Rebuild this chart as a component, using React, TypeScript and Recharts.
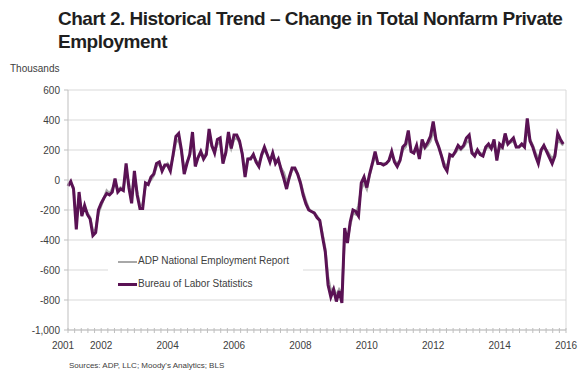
import React from "react";
import { LineChart, Line, XAxis, YAxis, CartesianGrid, ReferenceLine } from "recharts";

// monthly change, thousands, Jan 2001 .. Dec 2015
const START_YEAR = 2001;

const blsChange = [
  -40, -10, -60, -330, -80, -240, -170, -230, -260, -370, -350, -200, // 2001
  -155, -120, -90, -100, -80, 10, -80, -60, -70, 110, -50, -155, // 2002
  60, -100, -190, -190, -20, -30, 20, 40, 110, 120, 60, 100, // 2003
  100, 60, 170, 290, 310, 200, 40, 110, 170, 320, 90, 150, // 2004
  190, 140, 170, 340, 230, 180, 270, 280, 110, 180, 320, 210, // 2005
  300, 300, 260, 170, 20, 140, 140, 170, 120, 90, 170, 220, // 2006
  170, 120, 180, 110, 140, 70, 10, -60, 20, 80, 80, 40, // 2007
  -20, -100, -160, -200, -210, -220, -250, -270, -380, -480, -700, -780, // 2008
  -730, -810, -740, -820, -320, -420, -280, -200, -210, -240, -20, 20, // 2009
  -50, 40, 110, 190, 110, 110, 100, 110, 130, 190, 120, 90, // 2010
  130, 220, 240, 330, 190, 180, 230, 140, 270, 220, 250, 290, // 2011
  390, 270, 220, 160, 90, 60, 170, 160, 190, 230, 210, 230, // 2012
  280, 300, 180, 160, 200, 170, 160, 220, 240, 210, 270, 130, // 2013
  240, 220, 310, 240, 260, 280, 220, 220, 240, 220, 410, 260, // 2014
  220, 160, 110, 200, 230, 190, 150, 110, 160, 310, 270, 240, // 2015
];

const adpChange = [
  -30, -20, -50, -280, -120, -220, -180, -220, -250, -340, -330, -220, // 2001
  -170, -120, -70, -90, -60, -20, -70, -50, -60, 60, -20, -110, // 2002
  20, -80, -170, -160, -40, -20, 0, 30, 90, 110, 70, 90, // 2003
  110, 80, 160, 250, 270, 190, 70, 120, 160, 270, 130, 150, // 2004
  180, 160, 180, 290, 220, 190, 240, 250, 140, 170, 280, 210, // 2005
  270, 280, 250, 180, 60, 140, 150, 160, 130, 110, 160, 200, // 2006
  170, 130, 160, 120, 130, 80, 50, -10, 10, 70, 70, 40, // 2007
  -10, -80, -140, -190, -210, -220, -240, -270, -360, -460, -650, -740, // 2008
  -720, -770, -730, -760, -380, -400, -300, -220, -230, -170, -60, -20, // 2009
  -60, 30, 100, 160, 110, 110, 110, 110, 130, 170, 130, 110, // 2010
  130, 200, 220, 280, 190, 180, 210, 150, 240, 210, 230, 260, // 2011
  330, 260, 220, 160, 110, 90, 150, 160, 180, 210, 200, 220, // 2012
  250, 260, 190, 170, 190, 180, 170, 210, 220, 210, 240, 160, // 2013
  210, 210, 270, 240, 250, 260, 220, 220, 230, 230, 330, 270, // 2014
  230, 180, 140, 190, 220, 200, 170, 140, 170, 260, 250, 230, // 2015
];

const yTicks = [-1000, -800, -600, -400, -200, 0, 200, 400, 600];
const xLabelYears = [2001, 2002, 2004, 2006, 2008, 2010, 2012, 2014, 2016];

const BLS_COLOR = "#5a1254";
const ADP_COLOR = "#a8a8a8";
const AXIS = "#bfbfbf";
const TEXT = "#404040";

const data = blsChange.map((v, i) => ({
  t: START_YEAR + i / 12,
  bls: v,
  adp: adpChange[i],
}));

// minor tick marks along the time axis, labels only on some years
const xTicks: number[] = [];
for (let k = 0; k <= 75; k++) xTicks.push(+(START_YEAR + k * 0.2).toFixed(2));

const XTick = (props: any) => {
  const { x, y, payload } = props;
  const year = payload.value;
  const showLabel = xLabelYears.some((yr) => Math.abs(yr - year) < 0.01);
  return (
    <g>
      <line x1={x} x2={x} y1={y - 2} y2={y + 3} stroke={AXIS} />
      {showLabel && (
        <text x={x + (Math.round(year) === 2001 ? -5 : 0)} y={y + 19} textAnchor="middle" fontSize={10} fill={TEXT}>
          {Math.round(year)}
        </text>
      )}
    </g>
  );
};

export default function App() {
  return (
    <div
      style={{
        position: "absolute",
        left: 0,
        top: 0,
        width: 585,
        height: 386,
        background: "#fff",
        fontFamily: "'Liberation Sans', Arial, sans-serif",
      }}
    >
      <div
        style={{
          position: "absolute",
          left: 58,
          top: 8,
          fontSize: 19,
          fontWeight: 700,
          lineHeight: "22.5px",
          letterSpacing: -0.5,
          color: "#1f1f1f",
          whiteSpace: "nowrap",
        }}
      >
        Chart 2. Historical Trend – Change in Total Nonfarm Private
        <br />
        Employment
      </div>
      <div style={{ position: "absolute", left: 10, top: 63, fontSize: 10, lineHeight: "12px", color: TEXT }}>
        Thousands
      </div>

      <LineChart width={585} height={386} data={data} margin={{ top: 90, right: 19, bottom: 26, left: 0 }}>
        <CartesianGrid vertical={false} stroke="#d9d9d9" />
        <XAxis
          dataKey="t"
          type="number"
          domain={[2001, 2016]}
          ticks={xTicks}
          interval={0}
          tick={<XTick />}
          tickLine={false}
          tickSize={0}
          tickMargin={0}
          axisLine={{ stroke: AXIS }}
          height={30}
        />
        <YAxis
          type="number"
          domain={[-1000, 600]}
          ticks={yTicks}
          interval={0}
          width={68}
          tickSize={4}
          tickMargin={4}
          tickLine={{ stroke: AXIS }}
          axisLine={{ stroke: AXIS }}
          tick={{ fontSize: 10, fill: TEXT }}
          tickFormatter={(v: number) => v.toLocaleString("en-US")}
        />
        <ReferenceLine x={2016} stroke="#d9d9d9" />
        <Line type="linear" dataKey="adp" stroke={ADP_COLOR} strokeWidth={2.5} dot={false} isAnimationActive={false} />
        <Line type="linear" dataKey="bls" stroke={BLS_COLOR} strokeWidth={3} dot={false} isAnimationActive={false} />
      </LineChart>

      {/* legend sits inside the plot on a white box */}
      <div
        style={{
          position: "absolute",
          left: 108,
          top: 250,
          width: 195,
          height: 46,
          background: "#fff",
          fontSize: 10,
          color: TEXT,
        }}
      >
        <div style={{ position: "absolute", left: 10, top: 11, width: 19, height: 2, background: ADP_COLOR }} />
        <div style={{ position: "absolute", left: 30, top: 5, whiteSpace: "nowrap", lineHeight: "12px" }}>
          ADP National Employment Report
        </div>
        <div style={{ position: "absolute", left: 10, top: 33, width: 19, height: 3, background: BLS_COLOR }} />
        <div style={{ position: "absolute", left: 30, top: 28, whiteSpace: "nowrap", lineHeight: "12px" }}>
          Bureau of Labor Statistics
        </div>
      </div>

      <div style={{ position: "absolute", left: 69, top: 361, fontSize: 8, lineHeight: "10px", color: TEXT }}>
        Sources: ADP, LLC; Moody's Analytics; BLS
      </div>
    </div>
  );
}
